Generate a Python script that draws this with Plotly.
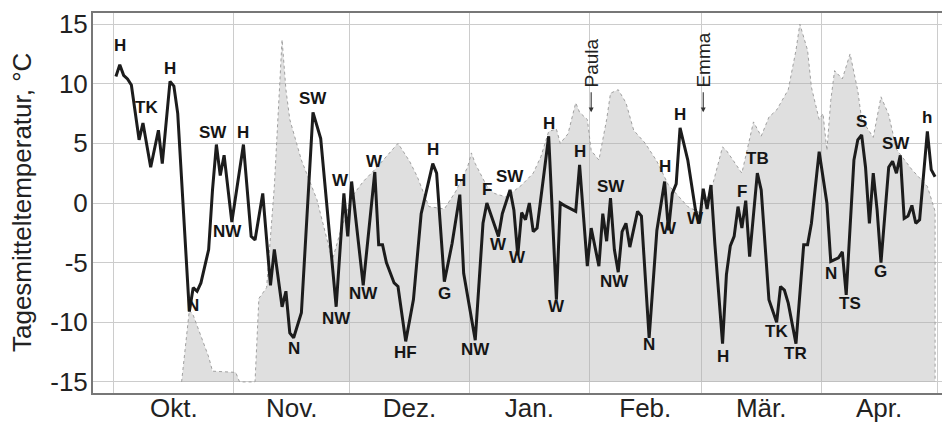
import plotly.graph_objects as go
import pandas as pd

# ---------------- data ----------------
temp_dates = [
    "2007-10-01", "2007-10-02", "2007-10-03", "2007-10-04", "2007-10-05", "2007-10-06",
    "2007-10-07", "2007-10-08", "2007-10-10", "2007-10-12", "2007-10-13", "2007-10-15",
    "2007-10-16", "2007-10-17", "2007-10-20", "2007-10-21", "2007-10-22", "2007-10-23",
    "2007-10-25", "2007-10-26", "2007-10-27", "2007-10-28", "2007-10-29", "2007-10-31",
    "2007-11-03", "2007-11-05", "2007-11-06", "2007-11-08", "2007-11-10", "2007-11-11",
    "2007-11-13", "2007-11-14", "2007-11-15", "2007-11-16", "2007-11-18", "2007-11-21",
    "2007-11-23", "2007-11-27", "2007-11-29", "2007-11-30", "2007-12-01", "2007-12-04",
    "2007-12-07", "2007-12-08", "2007-12-09", "2007-12-10", "2007-12-12", "2007-12-13",
    "2007-12-15", "2007-12-17", "2007-12-19", "2007-12-22", "2007-12-23", "2007-12-25",
    "2007-12-27", "2007-12-29", "2007-12-30", "2008-01-02", "2008-01-04", "2008-01-05",
    "2008-01-08", "2008-01-09", "2008-01-11", "2008-01-12", "2008-01-13", "2008-01-14",
    "2008-01-15", "2008-01-16", "2008-01-17", "2008-01-18", "2008-01-21", "2008-01-23",
    "2008-01-24", "2008-01-25", "2008-01-28", "2008-01-29", "2008-01-31", "2008-02-01",
    "2008-02-03", "2008-02-04", "2008-02-05", "2008-02-06", "2008-02-07", "2008-02-08",
    "2008-02-09", "2008-02-10", "2008-02-11", "2008-02-13", "2008-02-14", "2008-02-16",
    "2008-02-18", "2008-02-20", "2008-02-21", "2008-02-22", "2008-02-23", "2008-02-24",
    "2008-02-26", "2008-02-28", "2008-02-29", "2008-03-01", "2008-03-02", "2008-03-03",
    "2008-03-04", "2008-03-06", "2008-03-07", "2008-03-08", "2008-03-09", "2008-03-10",
    "2008-03-11", "2008-03-12", "2008-03-13", "2008-03-15", "2008-03-16", "2008-03-18",
    "2008-03-20", "2008-03-21", "2008-03-22", "2008-03-23", "2008-03-25", "2008-03-27",
    "2008-03-28", "2008-03-29", "2008-03-31", "2008-04-02", "2008-04-03", "2008-04-05",
    "2008-04-06", "2008-04-07", "2008-04-09", "2008-04-10", "2008-04-11", "2008-04-12",
    "2008-04-13", "2008-04-14", "2008-04-15", "2008-04-16", "2008-04-18", "2008-04-19",
    "2008-04-20", "2008-04-21", "2008-04-22", "2008-04-23", "2008-04-24", "2008-04-25",
    "2008-04-26", "2008-04-28", "2008-04-29", "2008-04-30",
]
temp_values = [
    10.6, 11.6, 10.7, 10.4, 9.9, 7.5,
    5.3, 6.7, 3.0, 6.1, 3.3, 10.2,
    9.8, 7.5, -9.1, -7.1, -7.4, -6.7,
    -3.9, 1.1, 4.9, 2.3, 4.0, -1.6,
    4.9, -2.8, -3.1, 0.8, -6.9, -3.9,
    -8.7, -7.4, -10.9, -11.3, -9.2, 7.6,
    5.4, -8.7, 0.8, -2.8, 1.8, -6.9,
    2.6, -3.5, -3.5, -5.0, -6.7, -7.0,
    -11.6, -8.1, -0.9, 3.3, 2.5, -6.6,
    -3.4, 0.7, -5.9, -11.5, -1.7, 0.0,
    -2.8, -0.9, 1.1, -0.6, -4.4, -0.8,
    -1.4, 0.0, -2.4, -2.1, 5.6, -8.1,
    0.0, -0.2, -0.7, 3.2, -5.3, -2.1,
    -5.3, -0.9, -3.2, 0.4, -3.9, -5.8,
    -2.4, -1.7, -3.7, -0.7, -1.1, -11.3,
    -2.3, 1.8, -2.3, 0.8, 1.6, 6.3,
    3.6, -0.6, -1.7, 1.2, -0.5, 1.5,
    -3.4, -11.8, -6.0, -3.6, -2.8, -0.3,
    -2.1, 0.2, -4.5, 2.5, 1.1, -8.1,
    -10.0, -7.0, -7.3, -8.4, -11.8, -3.5,
    -3.5, -1.7, 4.3, 0.0, -4.9, -4.6,
    -4.1, -7.7, 3.6, 5.3, 5.7, 3.0,
    -1.7, 2.5, -0.6, -5.0, 3.0, 3.5,
    2.5, 4.0, -1.3, -1.1, -0.2, -1.7,
    -1.4, 6.0, 2.8, 2.2,
]

area_dates = [
    "2007-10-18", "2007-10-20", "2007-10-21", "2007-10-25", "2007-10-26", "2007-11-01",
    "2007-11-02", "2007-11-06", "2007-11-07", "2007-11-09", "2007-11-11", "2007-11-12",
    "2007-11-13", "2007-11-14", "2007-11-15", "2007-11-18", "2007-11-22", "2007-11-26",
    "2007-11-28", "2007-12-01", "2007-12-04", "2007-12-07", "2007-12-10", "2007-12-13",
    "2007-12-16", "2007-12-18", "2007-12-21", "2007-12-25", "2007-12-28", "2007-12-31",
    "2008-01-01", "2008-01-02", "2008-01-05", "2008-01-07", "2008-01-10", "2008-01-14",
    "2008-01-17", "2008-01-19", "2008-01-21", "2008-01-23", "2008-01-24", "2008-01-26",
    "2008-01-28", "2008-01-29", "2008-01-31", "2008-02-01", "2008-02-03", "2008-02-05",
    "2008-02-06", "2008-02-08", "2008-02-10", "2008-02-12", "2008-02-15", "2008-02-18",
    "2008-02-21", "2008-02-26", "2008-02-29", "2008-03-03", "2008-03-06", "2008-03-07",
    "2008-03-11", "2008-03-13", "2008-03-14", "2008-03-16", "2008-03-18", "2008-03-20",
    "2008-03-23", "2008-03-25", "2008-03-26", "2008-03-28", "2008-03-29", "2008-03-31",
    "2008-04-01", "2008-04-02", "2008-04-03", "2008-04-04", "2008-04-06", "2008-04-08",
    "2008-04-10", "2008-04-11", "2008-04-14", "2008-04-16", "2008-04-18", "2008-04-20",
    "2008-04-24", "2008-04-28", "2008-04-30", "2008-04-30",
]
area_values = [
    -15.0, -9.0, -9.4, -12.9, -14.1, -14.2,
    -15.0, -15.0, -8.0, -7.1, 1.4, 7.8,
    13.7, 9.5, 7.0, 3.6, 0.3, -4.8,
    -2.5, 0.5, 1.8, 2.8, 3.9, 5.0,
    3.5, 2.2, -0.3, -0.5, 1.0, 3.0,
    4.2, 3.3, 1.4, 0.8, 0.5, 1.5,
    2.5, 3.9, 6.0, 6.2, 5.0, 5.8,
    8.4, 7.6, 7.0, 4.4, 3.6, 7.0,
    9.2, 9.5, 8.4, 6.1, 5.0, 3.5,
    1.5, -0.3, -0.8, 1.0, 4.7, 4.4,
    2.5, 5.3, 6.8, 5.6, 7.2, 7.8,
    9.5, 12.8, 15.0, 12.8, 9.7, 7.0,
    7.5, 4.4, 8.6, 11.1, 10.4, 12.5,
    9.4, 7.0, 5.5, 8.9, 7.4, 4.5,
    2.8, 1.4, -0.7, -15.0,
]
AREA_BASE = -15

label_dates = [
    "2007-10-02", "2007-10-09", "2007-10-15", "2007-10-26", "2007-11-03", "2007-10-30",
    "2007-10-21", "2007-11-16", "2007-11-21", "2007-11-28", "2007-12-07", "2007-11-27",
    "2007-12-04", "2007-12-15", "2007-12-22", "2007-12-25", "2007-12-29", "2008-01-02",
    "2008-01-05", "2008-01-11", "2008-01-08", "2008-01-13", "2008-01-21", "2008-01-23",
    "2008-01-29", "2008-02-06", "2008-02-07", "2008-02-16", "2008-02-20", "2008-02-21",
    "2008-02-24", "2008-02-28", "2008-03-06", "2008-03-11", "2008-03-15", "2008-03-20",
    "2008-03-25", "2008-04-03", "2008-04-08", "2008-04-11", "2008-04-16", "2008-04-20",
    "2008-04-28",
]
label_values = [
    13.2, 8.0, 11.3, 5.95, 5.95, -2.4,
    -8.6, -12.2, 8.8, 1.9, 3.5, -9.7,
    -7.6, -12.5, 4.45, -7.6, 1.9, -12.3,
    1.1, 2.2, -3.5, -4.6, 6.7, -8.7,
    4.3, 1.4, -6.6, -11.9, 3.05, -2.1,
    7.4, -1.3, -12.9, 0.95, 3.75, -10.8,
    -12.6, -5.9, -8.4, 6.8, -5.75, 5.0,
    7.2,
]
label_texts = [
    "H", "TK", "H", "SW", "H", "NW",
    "N", "N", "SW", "W", "W", "NW",
    "NW", "HF", "H", "G", "H", "NW",
    "F", "SW", "W", "W", "H", "W",
    "H", "SW", "NW", "N", "H", "W",
    "H", "W", "H", "F", "TB", "TK",
    "TR", "N", "TS", "S", "G", "SW",
    "h",
]

# storm markers: arrow tip value and arrow length in pixels
storm_dates = ["2008-02-01", "2008-03-01"]
storm_tip_values = [7.6, 7.6]
storm_names = ["Paula", "Emma"]
storm_text_offsets = [-49, -52]

month_starts = ["2007-10-01", "2007-11-01", "2007-12-01", "2008-01-01", "2008-02-01",
                "2008-03-01", "2008-04-01", "2008-05-01"]
month_mids = ["2007-10-16 12:00", "2007-11-16 00:00", "2007-12-16 12:00", "2008-01-16 12:00",
              "2008-02-15 12:00", "2008-03-16 12:00", "2008-04-16 00:00"]
month_labels = ["Okt.", "Nov.", "Dez.", "Jan.", "Feb.", "Mär.", "Apr."]

y_ticks = [-15, -10, -5, 0, 5, 10, 15]
y_ticklabels = ["-15", "-10", "-5", "0", "5", "10", "15"]
y_title = "Tagesmitteltemperatur, °C"

# daily means are plotted at noon of each day
NOON = pd.Timedelta(hours=12)
tx = pd.to_datetime(temp_dates) + NOON
ax = pd.to_datetime(area_dates) + NOON
lx = pd.to_datetime(label_dates) + NOON
sx = pd.to_datetime(storm_dates) + NOON

FONT = "Liberation Sans, Arial, Helvetica, sans-serif"

fig = go.Figure()

# baseline for the grey area
fig.add_trace(go.Scatter(x=ax, y=[AREA_BASE] * len(ax), mode="lines",
                         line=dict(width=0, color="rgba(0,0,0,0)"),
                         hoverinfo="skip", showlegend=False))
fig.add_trace(go.Scatter(x=ax, y=area_values, mode="lines", fill="tonexty",
                         fillcolor="rgba(175,175,175,0.40)",
                         line=dict(color="#a0a0a0", width=1, dash="dot"),
                         showlegend=False))
fig.add_trace(go.Scatter(x=tx, y=temp_values, mode="lines",
                         line=dict(color="#1c1c1c", width=3),
                         showlegend=False))

for d, v, t in zip(lx, label_values, label_texts):
    fig.add_annotation(x=d, y=v, text="<b>%s</b>" % t, showarrow=False,
                       font=dict(family=FONT, size=17, color="#151515"),
                       xanchor="center", yanchor="middle")

for d, v, t, off in zip(sx, storm_tip_values, storm_names, storm_text_offsets):
    fig.add_annotation(x=d, y=v, text=t, showarrow=True, textangle=-90,
                       ax=0, ay=off, borderpad=4,
                       arrowhead=2, arrowsize=0.9, arrowwidth=1.1, arrowcolor="#333333",
                       font=dict(family=FONT, size=19, color="#222222"))

fig.add_annotation(xref="paper", yref="paper", x=-0.0836, y=0.5, text=y_title,
                   textangle=-90, showarrow=False,
                   font=dict(family=FONT, size=26, color="#222222"),
                   xanchor="center", yanchor="middle")

fig.update_layout(
    width=942, height=424,
    margin=dict(l=93, r=0, t=13, b=31),
    paper_bgcolor="white", plot_bgcolor="white",
    template="none",
    showlegend=False,
    font=dict(family=FONT, color="#222222"),
)
fig.update_xaxes(
    type="date",
    range=["2007-09-25 13:40", "2008-05-02 07:00"],
    tickmode="array", tickvals=month_mids, ticktext=month_labels,
    ticks="", showgrid=False, zeroline=False,
    ticklabelstandoff=-9,
    tickfont=dict(family=FONT, size=26, color="#222222"),
    showline=True, linecolor="#777777", linewidth=2, mirror=True,
    minor=dict(tickmode="array", tickvals=month_starts, showgrid=True,
               gridcolor="#cccccc", gridwidth=1, ticks=""),
    automargin=False,
)
fig.update_yaxes(
    range=[-15.93, 15.93],
    tickmode="array", tickvals=y_ticks, ticktext=y_ticklabels,
    ticks="", showgrid=True, gridcolor="#cccccc", gridwidth=1, zeroline=False,
    ticklabelstandoff=-2,
    tickfont=dict(family=FONT, size=26, color="#222222"),
    showline=True, linecolor="#777777", linewidth=2, mirror=False,
    automargin=False,
)

fig.write_html("out.html", config={"displayModeBar": False},
               post_script="document.body.style.margin='0';document.body.style.padding='0';")
